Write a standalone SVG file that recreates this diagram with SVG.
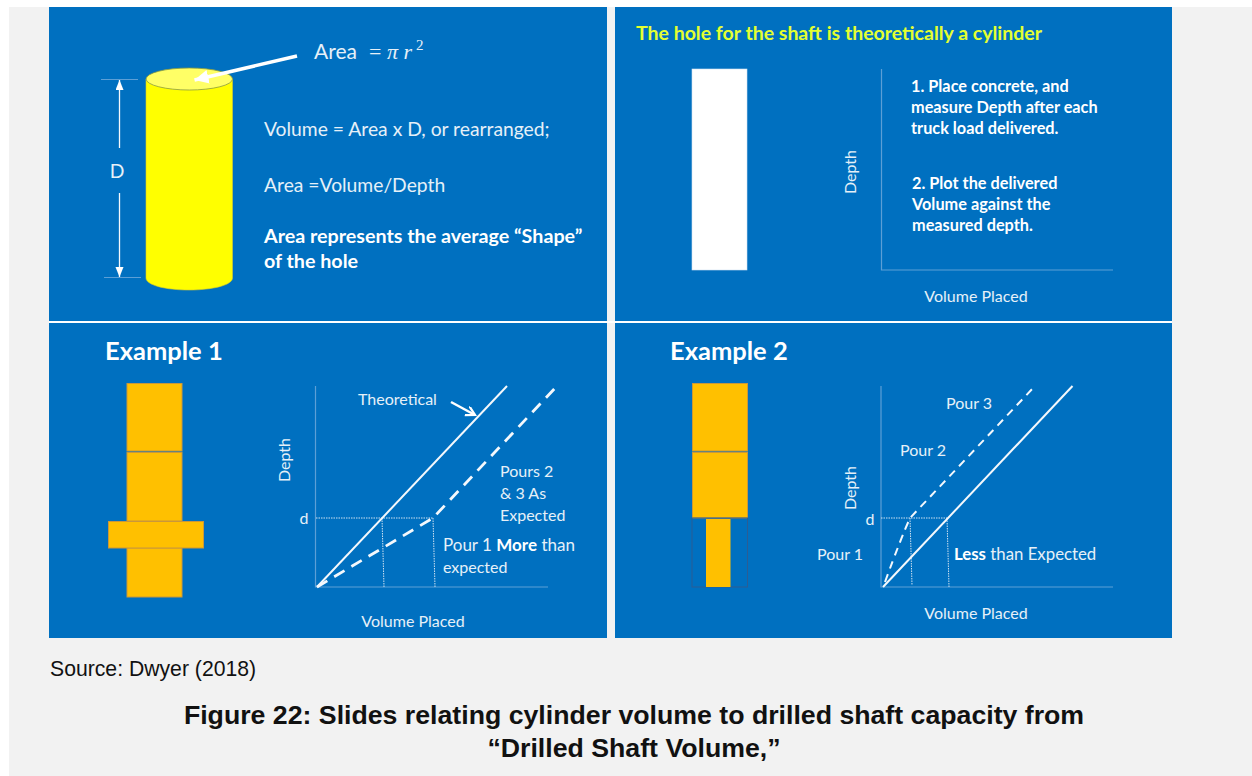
<svg xmlns="http://www.w3.org/2000/svg" width="1252" height="776" viewBox="0 0 1252 776">
<style>
.p{fill:#0070c0}
text{font-family:Lato,"Open Sans",sans-serif;fill:#e6f0f8}
.l{font-size:16px}
.lb{font-size:16.300px}
.m{font-size:19.300px}
.mb{font-size:19.700px}
.b{font-weight:700;fill:#fff}
.s{font-family:"Liberation Sans",Arial,sans-serif;fill:#111}
.ax{stroke:#5c9fd6;stroke-width:1.200;fill:none}
.dot{stroke:#cfe2f2;stroke-width:1;stroke-dasharray:1.500 1;fill:none}
.w{stroke:#f4f8fc;fill:none}
.o{fill:#ffc000;stroke:#c9973a;stroke-width:1}
</style>
<defs>
<marker id="ah" markerUnits="userSpaceOnUse" markerWidth="12" markerHeight="10" refX="10" refY="4" orient="auto"><path d="M0 0L10 4L0 8z" fill="#fff"/></marker>
<marker id="ah2" markerUnits="userSpaceOnUse" markerWidth="18" markerHeight="16" refX="14" refY="7" orient="auto"><path d="M0 0L14 7L0 14z" fill="#fff"/></marker>
<marker id="ah3" markerUnits="userSpaceOnUse" markerWidth="12" markerHeight="12" refX="9" refY="5" orient="auto"><path d="M0 0L9 5L0 10" fill="none" stroke="#fff" stroke-width="2.200"/></marker>
</defs>
<rect x="0" y="0" width="1252" height="776" fill="#fff"/>
<rect x="9" y="7" width="1243" height="769" fill="#f2f2f2"/>
<rect x="49" y="321" width="1123" height="2" fill="#fff"/>
<g id="panel-cylinder">
<rect class="p" x="49" y="7" width="558" height="314"/>
<path d="M146 79V278C146 285 165 290 189 290S232.500 285 232.500 278V79z" fill="#ffff00" stroke="#d9c92a" stroke-width=".6"/>
<ellipse cx="189.300" cy="79" rx="43.200" ry="11" fill="#ffff66" stroke="#8a9a40" stroke-width=".8"/>
<path class="ax" d="M101 79.500H138M104 277.500H141"/>
<path class="w" stroke-width="1.300" d="M119.500 148V80" marker-end="url(#ah)"/>
<path class="w" stroke-width="1.300" d="M119.500 193V277" marker-end="url(#ah)"/>
<text x="117" y="178" text-anchor="middle" class="m">D</text>
<path d="M297 56L194.500 80" stroke="#fff" stroke-width="3.500" fill="none" marker-end="url(#ah2)"/>
<text x="314" y="59" style="font-size:21px">Area</text>
<text x="369" y="59" style="font-size:22px;font-family:'Liberation Serif',serif">= <tspan font-style="italic">π r</tspan></text>
<text x="416" y="50" style="font-size:15px;font-family:'Liberation Serif',serif">2</text>
<text x="264" y="136" class="m">Volume = Area x D, or rearranged;</text>
<text x="264" y="192" class="m">Area =Volume/Depth</text>
<text x="264" y="243" class="mb b">Area represents the average “Shape”</text>
<text x="264" y="268" class="mb b">of the hole</text>
</g>
<g id="panel-theory">
<rect class="p" x="615" y="7" width="557" height="314"/>
<text x="636" y="40" class="b" style="font-size:19.500px;fill:#e4ff30">The hole for the shaft is theoretically a cylinder</text>
<rect x="692" y="69" width="55" height="201" fill="#fff" stroke="#cfe2f2" stroke-width=".6"/>
<path class="ax" d="M881.500 69V270H1113"/>
<text x="911" y="92" class="lb b">1. Place concrete, and</text>
<text x="911" y="113" class="lb b">measure Depth after each</text>
<text x="911" y="134" class="lb b">truck load delivered.</text>
<text x="912" y="189" class="lb b">2. Plot the delivered</text>
<text x="912" y="210" class="lb b">Volume against the</text>
<text x="912" y="231" class="lb b">measured depth.</text>
<text transform="translate(856 172) rotate(-90)" text-anchor="middle" class="l">Depth</text>
<text x="976" y="302" text-anchor="middle" class="l">Volume Placed</text>
</g>
<g id="panel-example1">
<rect class="p" x="49" y="323" width="558" height="315"/>
<text x="105" y="360" class="b" style="font-size:25.500px">Example 1</text>
<rect class="o" x="127" y="383.500" width="55" height="67.500"/>
<rect class="o" x="127" y="452.500" width="55" height="68.500"/>
<rect class="o" x="127" y="548" width="55" height="49"/>
<rect class="o" x="108.500" y="521.500" width="95" height="26.500"/>
<path class="ax" d="M315.500 386V587H548"/>
<path class="dot" d="M316 518H433M382 518L384 587M433 518L435 587"/>
<path class="w" stroke-width="2" d="M317 587L507 386"/>
<path class="w" stroke-width="2.800" stroke-dasharray="12 8" d="M317 587L433 518L557 386"/>
<path d="M451 402L475 415" stroke="#fff" stroke-width="2.500" fill="none" marker-end="url(#ah3)"/>
<text x="358" y="405" class="l">Theoretical</text>
<text x="500" y="477" class="l">Pours 2</text>
<text x="500" y="499" class="l">&amp; 3 As</text>
<text x="500" y="521" class="l">Expected</text>
<text x="443" y="551" style="font-size:17px">Pour 1 <tspan class="b">More</tspan> than</text>
<text x="443" y="573" class="l">expected</text>
<text transform="translate(290 460) rotate(-90)" text-anchor="middle" class="l">Depth</text>
<text x="304" y="524" text-anchor="middle" class="l">d</text>
<text x="413" y="627" text-anchor="middle" class="l">Volume Placed</text>
</g>
<g id="panel-example2">
<rect class="p" x="615" y="323" width="557" height="315"/>
<text x="670" y="360" class="b" style="font-size:25.500px">Example 2</text>
<rect class="o" x="692.500" y="383.500" width="55" height="67.500"/>
<rect class="o" x="692.500" y="452.500" width="55" height="65.500"/>
<rect x="692" y="518" width="55.500" height="69" fill="none" stroke="#2b5d94" stroke-width="1"/>
<rect x="706" y="519" width="24.500" height="68" fill="#ffc000"/>
<path class="ax" d="M881 386V587H1113"/>
<path class="dot" d="M881 518H947M910 518L912 585M947 518L949 587"/>
<path class="w" stroke-width="2" d="M883 587L1072.500 386"/>
<path class="w" stroke-width="2" stroke-dasharray="8 6" d="M885 582Q901 538 910 518L1035 386"/>
<text x="946" y="409" class="l">Pour 3</text>
<text x="900" y="456" class="l">Pour 2</text>
<text x="817" y="560" class="l">Pour 1</text>
<text x="954" y="560" style="font-size:16.800px"><tspan class="b">Less</tspan> than Expected</text>
<text transform="translate(856 488) rotate(-90)" text-anchor="middle" class="l">Depth</text>
<text x="870" y="525" text-anchor="middle" class="l">d</text>
<text x="976" y="619" text-anchor="middle" class="l">Volume Placed</text>
</g>
<g id="caption">
<text x="50" y="676" class="s" style="font-size:21.200px">Source: Dwyer (2018)</text>
<text x="634" y="724" text-anchor="middle" class="s" style="font-size:26.700px;font-weight:700">Figure 22: Slides relating cylinder volume to drilled shaft capacity from</text>
<text x="634" y="757" text-anchor="middle" class="s" style="font-size:26.700px;font-weight:700">“Drilled Shaft Volume,”</text>
</g>
<g id="connectors"></g>
</svg>
